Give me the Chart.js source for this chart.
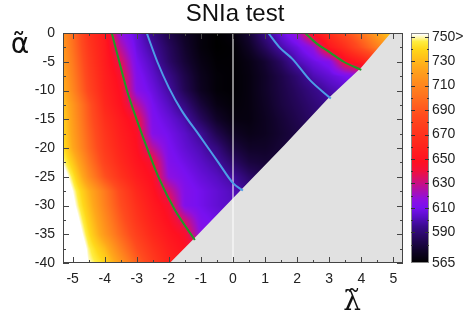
<!DOCTYPE html>
<html>
<head>
<meta charset="utf-8">
<script src="https://cdn.jsdelivr.net/npm/chart.js@4.4.0/dist/chart.umd.min.js"></script>
<style>
  html, body { margin: 0; padding: 0; background: #fff; }
</style>
</head>
<body>
<canvas id="c" width="463" height="324"></canvas>
<script>
// chi2 values (rows = alpha, cols = lambda)
const lambdaGrid = [-5.5, -5, -4.5, -4, -3.5, -3, -2.5, -2, -1.5, -1, -0.5, 0, 0.5, 1, 1.5, 2, 2.5, 3, 3.5, 4, 4.5, 5, 5.5];
const alphaGrid = [0, -2.5, -5, -7.5, -10, -12.5, -15, -17.5, -20, -22.5, -25, -27.5, -30, -32.5, -35, -37.5, -40];
const chi2Rows = [
  [725, 700, 670, 654, 617, 605, 593, 582, 574, 568, 565, 568, 578, 594, 606, 619, 650, 668, 686, 703, 722, 740, 755],
  [728, 702, 673, 655, 626, 607, 597, 586, 576, 568, 565, 566, 574, 586, 599, 607, 618, 652, 668, 688, 706, 724, 740],
  [731, 705, 676, 656, 636, 610, 601, 588, 578, 570, 566, 566, 570, 577, 587, 600, 607, 613, 644, 656, 672, 688, 703],
  [735, 708, 679, 658, 643, 613, 604, 594, 582, 572, 567, 566, 569, 575, 582, 590, 600, 605, 610, 615, 643, 655, 668],
  [739, 711, 682, 660, 646, 615, 607, 598, 584, 573, 567, 566, 569, 575, 581, 587, 593, 599, 603, 608, 613, 625, 640],
  [745, 718, 690, 663, 649, 628, 610, 602, 592, 579, 570, 567, 569, 574, 580, 585, 590, 595, 600, 605, 612, 620, 632],
  [750, 720, 692, 668, 654, 641, 612, 606, 599, 586, 575, 569, 569, 573, 578, 583, 588, 592, 596, 600, 604, 608, 614],
  [752, 722, 695, 672, 657, 646, 614, 609, 603, 596, 583, 574, 571, 573, 577, 581, 585, 589, 592, 596, 600, 603, 607],
  [755, 725, 698, 675, 660, 648, 627, 611, 605, 600, 592, 580, 575, 575, 578, 582, 585, 588, 591, 594, 597, 600, 603],
  [762, 735, 705, 680, 664, 651, 642, 613, 608, 603, 598, 588, 580, 578, 579, 582, 585, 588, 590, 592, 595, 598, 600],
  [770, 745, 713, 688, 670, 656, 646, 617, 611, 606, 602, 597, 588, 583, 582, 583, 585, 587, 589, 591, 593, 595, 597],
  [775, 752, 728, 705, 682, 663, 650, 632, 613, 609, 605, 601, 595, 589, 586, 585, 586, 587, 588, 590, 592, 594, 596],
  [780, 756, 732, 708, 686, 668, 654, 643, 613, 609, 605, 602, 599, 596, 591, 587, 584, 582, 582, 583, 585, 587, 590],
  [788, 762, 737, 713, 691, 672, 658, 647, 632, 612, 608, 604, 601, 598, 596, 592, 588, 585, 584, 584, 585, 587, 590],
  [795, 768, 742, 718, 697, 678, 663, 652, 644, 615, 610, 606, 602, 599, 597, 595, 591, 588, 586, 586, 587, 589, 592],
  [800, 775, 748, 731, 707, 686, 670, 657, 648, 642, 622, 611, 606, 602, 599, 597, 594, 591, 589, 588, 589, 591, 594],
  [805, 780, 751, 740, 718, 695, 676, 661, 651, 645, 636, 615, 609, 604, 601, 599, 596, 593, 591, 590, 591, 593, 596]
];

// excluded region edge (grey)
const edgeLambda = [-1.97, -1.19, 0.3, 1.6, 2.94, 4.0, 4.92, 5.5];
const edgeAlpha = [-40, -35.6, -27.0, -19.5, -11.5, -6.0, 0, 0];

// contours
const greenLeftL = [-3.78, -3.56, -3.31, -3.0, -2.66, -2.28, -1.81, -1.19];
const greenLeftA = [0, -4.7, -9.9, -15.1, -20.3, -25.6, -30.8, -36.0];
const greenRightL = [2.25, 2.6, 3.03, 3.45, 4.0];
const greenRightA = [0, -1.8, -3.4, -5, -6.4];
const blueLeftL = [-2.69, -2.36, -2.0, -1.6, -1.05, -0.47, 0, 0.31];
const blueLeftA = [0, -5, -9.5, -13.5, -17.8, -22.4, -26.1, -27.4];
const blueRightL = [1.1, 1.45, 1.85, 2.4, 3.05];
const blueRightA = [0, -2.5, -4.5, -8.2, -11.4];

const xTicks = [-5, -4, -3, -2, -1, 0, 1, 2, 3, 4, 5];
const yTicks = [0, -5, -10, -15, -20, -25, -30, -35, -40];
const cbTicks = [750, 730, 710, 690, 670, 650, 630, 610, 590, 565];
const cbLabels = ["750>", "730", "710", "690", "670", "650", "630", "610", "590", "565"];
const cbMin = 565, cbMax = 753;

// palette
const palVals = [565, 575, 585, 595, 603, 610, 617, 625, 633, 641, 648, 665, 685, 705, 725, 740, 746, 752];
const palCols = ["#000000", "#100328", "#240658", "#3a0a8e", "#5a0ec8", "#7810f0", "#8e10e0", "#b010a8", "#d41070", "#f41038",
  "#ff1020", "#ff2a1c", "#ff4a1e", "#ff7a1e", "#ffa81a", "#ffd81a", "#ffee40", "#ffffff"];
const palRgb = palCols.map(h => [parseInt(h.slice(1, 3), 16), parseInt(h.slice(3, 5), 16), parseInt(h.slice(5, 7), 16)]);

function colourFor(v) {
  if (v <= palVals[0]) return palRgb[0];
  for (let i = 1; i < palVals.length; i++) {
    if (v <= palVals[i]) {
      const t = (v - palVals[i - 1]) / (palVals[i] - palVals[i - 1]);
      const a = palRgb[i - 1], b = palRgb[i];
      return [0, 1, 2].map(k => Math.round(a[k] + (b[k] - a[k]) * t));
    }
  }
  return palRgb[palRgb.length - 1];
}

// value at a point, shaded bilinearly between grid cells
function chi2At(l, a) {
  const dl = lambdaGrid[1] - lambdaGrid[0], da = alphaGrid[0] - alphaGrid[1];
  let fi = (l - lambdaGrid[0]) / dl, fj = (alphaGrid[0] - a) / da;
  fi = Math.max(0, Math.min(lambdaGrid.length - 1.0001, fi));
  fj = Math.max(0, Math.min(alphaGrid.length - 1.0001, fj));
  const i = Math.floor(fi), j = Math.floor(fj), ti = fi - i, tj = fj - j;
  const top = chi2Rows[j][i] * (1 - ti) + chi2Rows[j][i + 1] * ti;
  const bot = chi2Rows[j + 1][i] * (1 - ti) + chi2Rows[j + 1][i + 1] * ti;
  return top * (1 - tj) + bot * tj;
}

function pts(ls, as) {
  return ls.map((l, i) => ({ x: l, y: as[i] }));
}

const font = "Liberation Sans, Arial, sans-serif";

const heatmapPlugin = {
  id: "heatmap",
  beforeDatasetsDraw(chart) {
    const { ctx, chartArea: a, scales: { x, y } } = chart;
    const w = Math.round(a.right - a.left), h = Math.round(a.bottom - a.top);
    const off = document.createElement("canvas");
    off.width = w;
    off.height = h;
    const octx = off.getContext("2d");
    const img = octx.createImageData(w, h);
    for (let py = 0; py < h; py++) {
      const av = y.getValueForPixel(a.top + py + 0.5);
      for (let px = 0; px < w; px++) {
        const lv = x.getValueForPixel(a.left + px + 0.5);
        const c = colourFor(chi2At(lv, av));
        const p = (py * w + px) * 4;
        img.data[p] = c[0]; img.data[p + 1] = c[1]; img.data[p + 2] = c[2]; img.data[p + 3] = 255;
      }
    }
    octx.putImageData(img, 0, 0);
    ctx.drawImage(off, a.left, a.top);
  }
};

const framePlugin = {
  id: "frame",
  afterDatasetsDraw(chart) {
    const { ctx, chartArea: a, scales: { x, y } } = chart;
    ctx.save();
    ctx.strokeStyle = "#444";
    ctx.lineWidth = 1;
    ctx.strokeRect(Math.round(a.left) + 0.5, Math.round(a.top) + 0.5, Math.round(a.right - a.left) - 1, Math.round(a.bottom - a.top) - 1);
    ctx.beginPath();
    for (let v = -5; v <= 5.001; v += 0.5) {
      const px = Math.round(x.getPixelForValue(v)) + 0.5;
      const len = Number.isInteger(v) ? 6 : 3;
      ctx.moveTo(px, a.bottom); ctx.lineTo(px, a.bottom - len);
      ctx.moveTo(px, a.top); ctx.lineTo(px, a.top + len);
    }
    for (let v = 0; v >= -40; v -= 2.5) {
      const py = Math.round(y.getPixelForValue(v)) + 0.5;
      const len = v % 5 === 0 ? 6 : 3;
      ctx.moveTo(a.left, py); ctx.lineTo(a.left + len, py);
      ctx.moveTo(a.right, py); ctx.lineTo(a.right - len, py);
    }
    ctx.stroke();
    ctx.restore();
  },
  afterDraw(chart) {
    const { ctx, chartArea: a } = chart;
    ctx.save();
    // title and axis names
    ctx.fillStyle = "#111";
    ctx.textAlign = "center";
    ctx.textBaseline = "middle";
    ctx.font = "24px " + font;
    ctx.fillText("SNIa test", 235, 14);
    ctx.font = "28px DejaVu Sans";
    ctx.fillText("\u03b1\u0303", 20, 46);
    ctx.font = "28px DejaVu Serif";
    ctx.fillText("\u03bb\u0303", 352, 303);

    // colour bar
    const bx = a.right + 8, bw = 18, top = a.top, bot = a.bottom;
    for (let py = top; py < bot; py++) {
      const v = cbMin + (bot - py - 0.5) / (bot - top) * (cbMax - cbMin);
      const c = colourFor(v);
      ctx.fillStyle = "rgb(" + c.join(",") + ")";
      ctx.fillRect(bx, py, bw, 1);
    }
    ctx.strokeStyle = "#888";
    ctx.strokeRect(bx + 0.5, top + 0.5, bw - 1, bot - top - 1);
    ctx.strokeStyle = "#333";
    ctx.beginPath();
    for (let v = 580; v <= 750; v += 10) {
      const py = Math.round(bot - (v - cbMin) / (cbMax - cbMin) * (bot - top)) + 0.5;
      const len = v % 20 === 10 ? 4 : 2;
      ctx.moveTo(bx, py); ctx.lineTo(bx + len, py);
      ctx.moveTo(bx + bw, py); ctx.lineTo(bx + bw - len, py);
    }
    ctx.stroke();
    ctx.fillStyle = "#222";
    ctx.textAlign = "left";
    ctx.font = "14px " + font;
    cbTicks.forEach((v, i) => {
      const py = bot - (v - cbMin) / (cbMax - cbMin) * (bot - top);
      ctx.fillText(cbLabels[i], bx + bw + 3, Math.min(py, bot));
    });
    ctx.restore();
  }
};

const line = (data, colour, order) => ({
  data: data, showLine: true, borderColor: colour, borderWidth: 2, pointRadius: 0,
  cubicInterpolationMode: "monotone", fill: false, order: order
});

new Chart(document.getElementById("c"), {
  type: "scatter",
  data: {
    datasets: [
      line(pts(greenLeftL, greenLeftA), "#1f9a25", 0),
      line(pts(greenRightL, greenRightA), "#1f9a25", 0),
      line(pts(blueLeftL, blueLeftA), "#4d9de6", 0),
      line(pts(blueRightL, blueRightA), "#4d9de6", 0),
      {
        data: [{ x: 0, y: 0 }, { x: 0, y: -40 }], showLine: true, borderColor: "rgba(255,255,255,0.45)",
        borderWidth: 1, pointRadius: 0, order: 1
      },
      {
        data: pts(edgeLambda, edgeAlpha), showLine: true, borderWidth: 0, borderColor: "#e1e1e1",
        backgroundColor: "#e1e1e1", pointRadius: 0, tension: 0, fill: "start", order: 2
      }
    ]
  },
  options: {
    responsive: false,
    animation: false,
    layout: { padding: { left: 0, right: 60, top: 33, bottom: 0 } },
    plugins: { legend: { display: false }, tooltip: { enabled: false } },
    scales: {
      x: {
        type: "linear", min: -5.3, max: 5.3,
        grid: { display: false, drawTicks: false }, border: { display: false },
        ticks: { font: { family: font, size: 14 }, color: "#222", padding: 8, maxRotation: 0 },
        afterBuildTicks: s => { s.ticks = xTicks.map(v => ({ value: v })); },
        afterFit: s => { s.height = 61; }
      },
      y: {
        type: "linear", min: -40, max: 0,
        grid: { display: false, drawTicks: false }, border: { display: false },
        ticks: { font: { family: font, size: 14 }, color: "#222", padding: 8 },
        afterBuildTicks: s => { s.ticks = yTicks.map(v => ({ value: v })); },
        afterFit: s => { s.width = 63; }
      }
    }
  },
  plugins: [heatmapPlugin, framePlugin]
});
</script>
</body>
</html>
